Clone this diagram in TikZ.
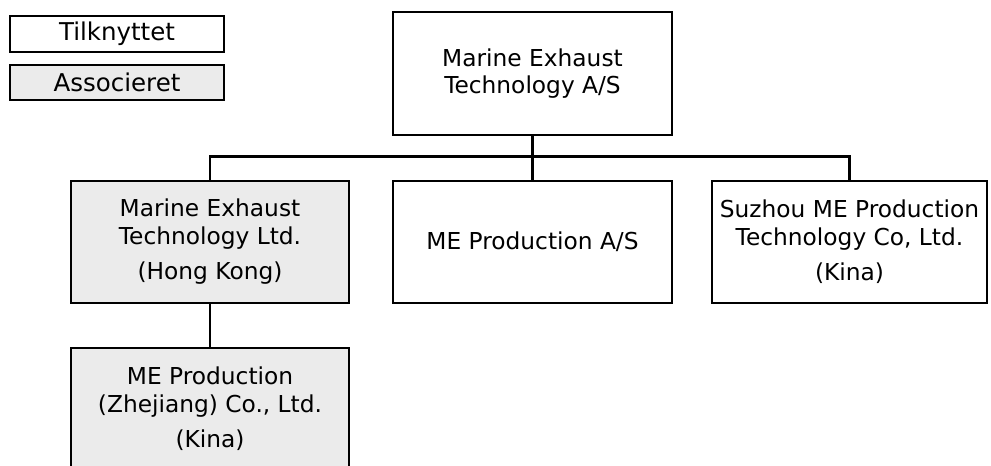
\documentclass[tikz,border=0pt]{standalone}
\usepackage{fontspec}
\setmainfont{DejaVu Sans}
\definecolor{assocgray}{HTML}{EBEBEB}
\tikzset{
  orgbox/.style={draw=black, line width=2.8pt, fill=white, align=center, inner sep=0pt,
    font=\fontsize{23.3}{27.5}\selectfont},
  assoc/.style={orgbox, fill=assocgray},
  legbox/.style={orgbox, minimum width=214pt, minimum height=36pt, font=\fontsize{24.5}{28}\selectfont},
  link/.style={draw=black, line width=2.8pt}
}
\begin{document}
\begin{tikzpicture}[x=1pt,y=-1pt]
\useasboundingbox (0,0) rectangle (991,466);
\clip (0,0) rectangle (991,466);
\fill[white] (0,0) rectangle (991,466);
% legend
\node[legbox] (leg1) at (117,34) {Tilknyttet};
\node[legbox, fill=assocgray, minimum height=35pt] (leg2) at (117,82.5) {Associeret};
% boxes
\node[orgbox, minimum width=279pt, minimum height=123pt] (top) at (532.5,73.5) {Marine Exhaust\\Technology A/S};
\node[assoc, minimum width=278pt, minimum height=122pt] (hk) at (210,242) {Marine Exhaust\\Technology Ltd.\\[8pt](Hong Kong)};
\node[orgbox, minimum width=279pt, minimum height=122pt] (mep) at (532.5,242) {ME Production A/S};
\node[orgbox, minimum width=275pt, minimum height=122pt] (suz) at (849.5,242) {Suzhou ME Production\\Technology Co, Ltd.\\[8pt](Kina)};
\node[assoc, minimum width=278pt, minimum height=122pt] (zj) at (210,409) {ME Production\\(Zhejiang) Co., Ltd.\\[8pt](Kina)};
% connectors
\draw[link] (top.south) -- (mep.north);
\draw[link] (hk.north) -- ++(0,-23) -| (suz.north);
\draw[link] (hk.south) -- (zj.north);
\end{tikzpicture}
\end{document}
